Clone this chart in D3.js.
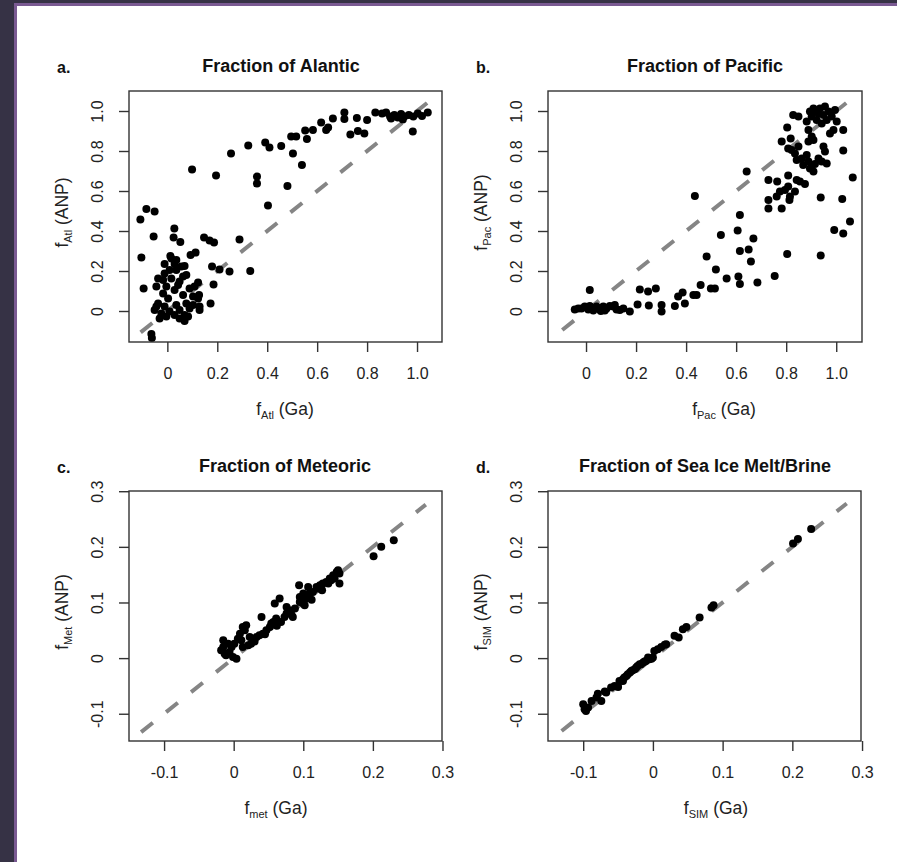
<!DOCTYPE html>
<html><head><meta charset="utf-8">
<script src="https://cdn.jsdelivr.net/npm/d3@7"></script>
<style>body{margin:0;background:#fff}svg{display:block}</style>
</head><body>
<svg id="chart" width="897" height="862"></svg>
<script>
// ---------- data ----------
const atlGa = [-0.108,-0.084,-0.051,-0.055,-0.104,-0.095,-0.064,-0.062,0.099,0.028,0.025,0.052,0.093,0.113,0.195,0.255,0.324,0.359,0.359,0.289,0.332,0.147,0.169,0.187,0.179,0.209,0.249,0.185,0.173,0.392,0.409,0.456,0.403,0.481,0.503,0.496,0.516,0.539,0.552,0.559,0.583,0.616,0.636,0.644,0.663,0.709,0.709,0.733,0.759,0.763,0.789,0.8,0.833,0.86,0.876,0.892,0.909,0.923,0.936,0.949,0.967,0.985,1.003,1.02,1.043,0.983,0.896,0.943,
 -0.011,0.029,0.009,-0.011,0.036,0.069,0.063,0.016,-0.017,-0.037,0.043,-0.004,-0.044,0.029,-0.017,0.063,0.003,-0.037,-0.011,0.036,0.076,0.103,0.009,0.049,0.089,0.129,-0.024,0.029,0.069,-0.031,-0.004,0.049,0.083,0.069,0.123,0.127,0.089,0.109,0.103,-0.051,-0.044,0.016,0.036,0.056,0.049,0.076,0.129,0.123,0.012];
const atlANP = [0.458,0.51,0.497,0.372,0.268,0.113,-0.115,-0.135,0.708,0.413,0.368,0.345,0.28,0.292,0.677,0.788,0.827,0.672,0.638,0.358,0.2,0.367,0.352,0.342,0.222,0.208,0.197,0.133,0.038,0.842,0.817,0.825,0.528,0.625,0.788,0.872,0.872,0.73,0.902,0.86,0.905,0.942,0.905,0.918,0.963,0.992,0.96,0.882,0.965,0.9,0.888,0.955,0.993,0.988,0.992,0.972,0.98,0.968,0.985,0.972,0.98,0.972,0.988,0.975,0.992,0.897,0.963,0.958,
 0.235,0.235,0.205,0.188,0.205,0.225,0.172,0.163,0.155,0.163,0.13,0.122,0.122,0.105,0.088,0.08,0.063,0.038,0.022,0.03,0.038,0.03,-0.003,0.005,0.013,0.022,-0.012,-0.02,-0.02,-0.037,-0.028,-0.037,-0.028,-0.05,0.063,0.08,0.113,0.122,0.072,0.005,0.022,0.263,0.255,0.222,0.147,0.18,0.005,0.142,0.275];

const pacGa = [-0.045,-0.031,-0.018,-0.005,0.009,0.015,0.029,0.042,0.055,0.069,0.082,0.095,0.109,0.122,0.135,0.149,0.175,0.015,0.059,0.029,0.075,0.115,
 0.206,0.215,0.248,0.251,0.279,0.302,0.302,0.355,0.368,0.386,0.395,0.429,0.442,0.458,0.482,0.499,0.515,0.519,0.539,0.562,0.435,0.606,0.609,0.615,0.615,0.615,0.65,0.659,0.669,0.685,0.642,0.754,0.804,0.938,0.729,0.764,0.729,0.729,0.762,0.782,0.775,0.795,0.808,0.815,0.813,0.835,0.808,0.842,0.855,0.875,0.782,0.804,0.818,0.808,0.822,0.835,0.849,0.842,0.862,0.868,0.882,0.889,0.895,0.902,0.909,0.915,0.929,0.942,0.962,0.949,0.955,0.938,1.024,0.992,1.028,1.055,1.066,1.028,1.028,0.828,0.849,0.882,0.895,0.909,0.922,0.935,0.955,0.969,0.982,0.995,1.002,0.989,0.975,0.962,0.942,0.922,0.902,0.889,0.902,0.909,0.889,0.929,0.949];
const pacANP = [0.008,0.013,0.013,0.022,0.008,0.025,0.013,0.022,0.008,0.022,0.013,0.025,0.022,0.008,0.005,0.013,-0.003,0.105,0,0.002,0.002,0.03,
 0.033,0.108,0.097,0.027,0.113,0.03,-0.003,0.025,0.072,0.092,0.038,0.08,0.08,0.13,0.272,0.113,0.113,0.208,0.38,0.163,0.575,0.402,0.172,0.135,0.48,0.3,0.308,0.247,0.363,0.142,0.697,0.175,0.285,0.277,0.655,0.647,0.555,0.513,0.572,0.513,0.597,0.605,0.622,0.572,0.555,0.597,0.677,0.655,0.647,0.635,0.847,0.918,0.863,0.813,0.805,0.788,0.822,0.755,0.763,0.73,0.78,0.747,0.713,0.73,0.697,0.735,0.763,0.747,0.738,0.822,0.797,0.568,0.56,0.405,0.388,0.447,0.667,0.803,0.905,0.98,0.972,0.947,0.997,1.013,0.997,1.013,1.022,0.997,0.972,1.005,0.947,0.905,0.888,0.955,0.938,0.955,0.972,0.905,0.872,0.855,0.847,0.988,0.98];

const metGa = [-0.015,-0.018,-0.013,-0.011,-0.006,-0.001,0.004,-0.003,0.001,0.006,0.009,0.013,0.018,0.016,0.011,0.013,0.021,0.025,0.028,0.033,0.037,0.042,0.04,0.047,0.052,0.054,0.057,0.059,0.066,0.061,0.068,0.073,0.076,0.08,0.085,0.088,0.094,0.095,0.1,0.102,0.104,0.107,0.109,0.114,0.119,0.124,0.128,0.133,0.138,0.143,0.148,0.15,0.152,0.152,0.145,0.136,0.121,0.107,0.1,0.095,0.201,0.212,0.23,-0.015,-0.008,0.023,0.076,0.03,0.045,0.062,0.083,0.112,0.127,0.14];
const metANP = [0.032,0.014,0.008,0.005,0.011,0.002,-0.001,0.02,0.026,0.035,0.044,0.056,0.059,0.05,0.032,0.02,0.023,0.026,0.035,0.038,0.041,0.044,0.074,0.05,0.056,0.062,0.065,0.098,0.107,0.071,0.065,0.074,0.08,0.086,0.074,0.089,0.131,0.101,0.098,0.095,0.107,0.113,0.116,0.119,0.128,0.131,0.134,0.137,0.143,0.149,0.155,0.158,0.152,0.134,0.143,0.134,0.125,0.128,0.116,0.11,0.183,0.2,0.212,0.02,0.026,0.038,0.092,0.03,0.043,0.058,0.078,0.105,0.122,0.14];

const simGa = [-0.1,-0.096,-0.093,-0.088,-0.079,-0.074,-0.069,-0.06,-0.055,-0.05,-0.048,-0.043,-0.041,-0.038,-0.033,-0.031,-0.029,-0.024,-0.022,-0.019,-0.014,-0.01,-0.005,0,0.002,0.007,0.012,0.017,0.019,0.031,0.037,0.043,0.048,0.067,0.084,0.087,0.201,0.208,0.227,-0.036,-0.026,-0.017,-0.012,-0.002,-0.067,-0.081,-0.098,-0.043,-0.007];
const simANP = [-0.083,-0.095,-0.089,-0.077,-0.064,-0.077,-0.06,-0.053,-0.05,-0.052,-0.041,-0.038,-0.035,-0.032,-0.026,-0.023,-0.022,-0.017,-0.014,-0.011,-0.008,-0.005,-0.002,0.001,0.013,0.016,0.02,0.024,0.025,0.04,0.037,0.052,0.056,0.073,0.091,0.095,0.206,0.214,0.232,-0.029,-0.02,-0.011,-0.006,-0.001,-0.062,-0.071,-0.092,-0.041,0.001];

const fracTicks = [0,0.2,0.4,0.6,0.8,1.0];
const fracTickLabels = ["0","0.2","0.4","0.6","0.8","1.0"];
const smallTicks = [-0.1,0,0.1,0.2,0.3];
const smallTickLabels = ["-0.1","0","0.1","0.2","0.3"];

const panelLetters = ["a.","b.","c.","d."];
const panelTitles = ["Fraction of Alantic","Fraction of Pacific","Fraction of Meteoric","Fraction of Sea Ice Melt/Brine"];
const xLabelSubs = ["Atl","Pac","met","SIM"];
const yLabelSubs = ["Atl","Pac","Met","SIM"];
const identityRanges = [[-0.107,1.054],[-0.095,1.04],[-0.133,0.276],[-0.131,0.278]];

// ---------- layout ----------
const panels = [
  {box:[129,91,442,342], xd:[-0.1536,1.1], yd:[-0.155,1.1], ticks:fracTicks, labels:fracTickLabels, xs:atlGa, ys:atlANP, titleX:281, xlabX:285},
  {box:[548,91,862,342], xd:[-0.152,1.103], yd:[-0.155,1.1], ticks:fracTicks, labels:fracTickLabels, xs:pacGa, ys:pacANP, titleX:705, xlabX:724},
  {box:[129,491,442,741], xd:[-0.1504,0.2993], yd:[-0.149,0.3004], ticks:smallTicks, labels:smallTickLabels, xs:metGa, ys:metANP, titleX:285, xlabX:276},
  {box:[548,491,861,741], xd:[-0.1505,0.2985], yd:[-0.149,0.3004], ticks:smallTicks, labels:smallTickLabels, xs:simGa, ys:simANP, titleX:705, xlabX:716}
];

const FONT = '"Liberation Sans", Arial, Helvetica, sans-serif';
const svg = d3.select("#chart");
svg.append("rect").attr("width",897).attr("height",862).attr("fill","#363245");
svg.append("rect").attr("x",14).attr("y",3).attr("width",897).attr("height",862).attr("fill","#7a5a92");
svg.append("rect").attr("x",17).attr("y",6).attr("width",897).attr("height",862).attr("fill","#ffffff");

panels.forEach((p,i)=>{
  const [x0,y0,x1,y1] = p.box;
  const x = d3.scaleLinear().domain(p.xd).range([x0,x1]);
  const y = d3.scaleLinear().domain(p.yd).range([y1,y0]);
  const g = svg.append("g");
  const lab = new Map(p.ticks.map((t,k)=>[t,p.labels[k]]));

  // identity line
  const r = identityRanges[i];
  g.append("line")
    .attr("x1",x(r[0])).attr("y1",y(r[0])).attr("x2",x(r[1])).attr("y2",y(r[1]))
    .attr("stroke","#858585").attr("stroke-width",4).attr("stroke-dasharray","15,17");

  // points
  g.append("g").selectAll("circle").data(d3.zip(p.xs,p.ys)).join("circle")
    .attr("cx",d=>x(d[0])).attr("cy",d=>y(d[1])).attr("r",4).attr("fill","#000");

  // box
  g.append("rect").attr("x",x0).attr("y",y0).attr("width",x1-x0).attr("height",y1-y0)
    .attr("fill","none").attr("stroke","#333").attr("stroke-width",1.4);

  // x axis
  const gx = g.append("g").attr("transform",`translate(0,${y1})`)
    .call(d3.axisBottom(x).tickValues(p.ticks).tickFormat(d=>lab.get(d)).tickSize(10).tickSizeOuter(0));
  gx.select(".domain").remove();
  gx.selectAll(".tick line").attr("stroke","#333").attr("stroke-width",1.4);
  gx.selectAll(".tick text").attr("y",37).attr("dy",0)
    .style("font-family",FONT).style("font-size","16px").attr("fill","#222");

  // y axis
  const gy = g.append("g").attr("transform",`translate(${x0},0)`)
    .call(d3.axisLeft(y).tickValues(p.ticks).tickFormat(d=>lab.get(d)).tickSize(10).tickSizeOuter(0));
  gy.select(".domain").remove();
  gy.selectAll(".tick line").attr("stroke","#333").attr("stroke-width",1.4);
  gy.selectAll(".tick text").attr("x",0).attr("y",-26).attr("dy",0)
    .attr("transform","rotate(-90)").attr("text-anchor","middle")
    .style("font-family",FONT).style("font-size","16px").attr("fill","#222");

  // title
  svg.append("text").attr("x",p.titleX).attr("y",y0-19.5).attr("text-anchor","middle")
    .style("font-family",FONT).style("font-size","18px").style("font-weight","bold")
    .attr("fill","#111").text(panelTitles[i]);
  // panel letter
  svg.append("text").attr("x",x0-72).attr("y",y0-18).attr("text-anchor","start")
    .style("font-family",FONT).style("font-size","16px").style("font-weight","bold")
    .attr("fill","#111").text(panelLetters[i]);

  // x label
  const xl = svg.append("text").attr("x",p.xlabX).attr("y",y1+73).attr("text-anchor","middle")
    .style("font-family",FONT).style("font-size","17.5px").attr("fill","#222");
  xl.append("tspan").text("f");
  xl.append("tspan").attr("dy",4).style("font-size","11px").text(xLabelSubs[i]);
  xl.append("tspan").attr("dy",-4).text(" (Ga)");

  // y label
  const cy = (y0+y1)/2 - 4;
  const yl = svg.append("text").attr("transform",`translate(${x0-61},${cy}) rotate(-90)`)
    .attr("text-anchor","middle")
    .style("font-family",FONT).style("font-size","17.5px").attr("fill","#222");
  yl.append("tspan").text("f");
  yl.append("tspan").attr("dy",4).style("font-size","11px").text(yLabelSubs[i]);
  yl.append("tspan").attr("dy",-4).text(" (ANP)");
});
</script>
</body></html>
